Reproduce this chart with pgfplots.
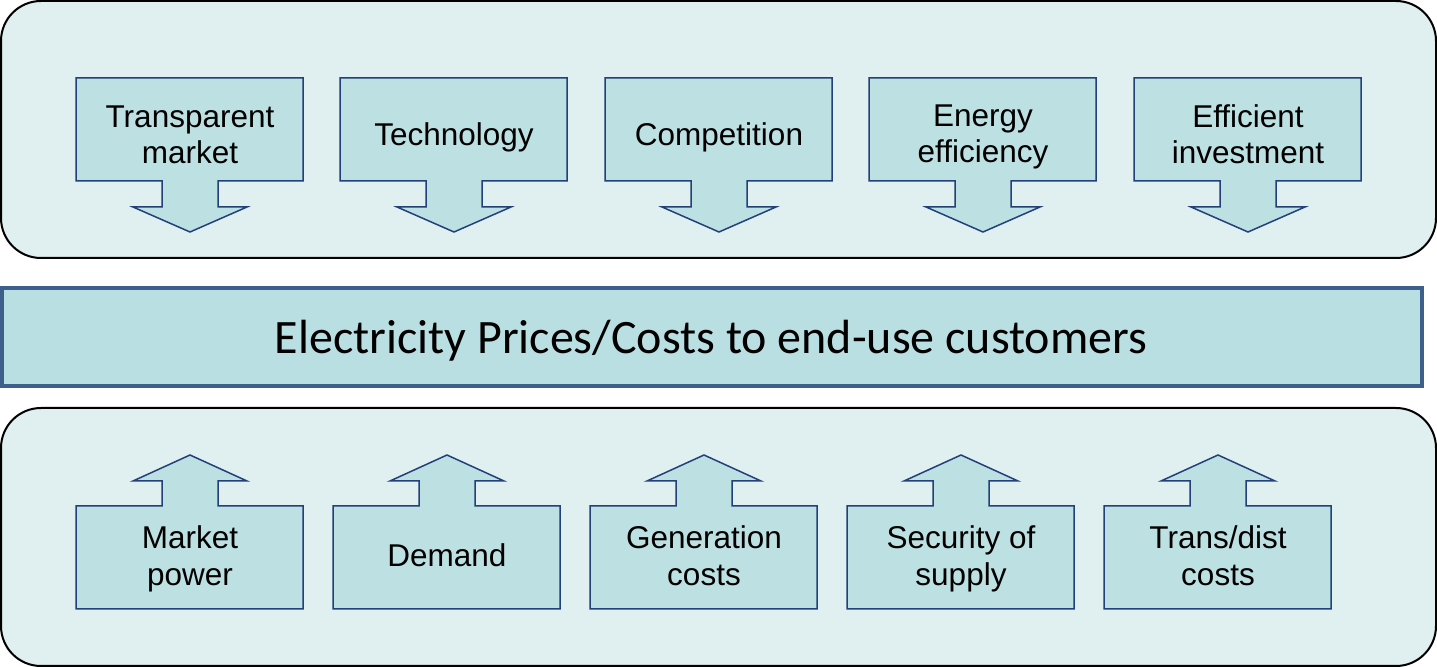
\documentclass[border=0pt]{standalone}
\usepackage{pgfplots}
\pgfplotsset{compat=1.18}
\usepackage{fontspec}
\setmainfont{Liberation Sans}
\newfontfamily\calib{Carlito}
\definecolor{panelfill}{HTML}{E0EFF0}
\definecolor{arrowfill}{HTML}{BDE0E2}
\definecolor{arrowline}{HTML}{23407A}
\definecolor{barline}{HTML}{3E5F8C}
\definecolor{barfill}{HTML}{B9DFE3}
\begin{document}
\begin{tikzpicture}
\begin{axis}[
  width=718.5pt, height=333.5pt, scale only axis,
  xmin=0, xmax=1437, ymin=0, ymax=667, y dir=reverse,
  hide axis, clip=false,
  every axis plot/.append style={mark=none},
]
% panels
\addplot[draw=black, line width=1pt, fill=panelfill, rounded corners=20pt] coordinates {(1,1) (1436,1) (1436,258) (1,258)} --cycle;
\addplot[draw=black, line width=1pt, fill=panelfill, rounded corners=20pt] coordinates {(1,408) (1436,408) (1436,666) (1,666)} --cycle;
% middle bar
\addplot[draw=barline, line width=2pt, fill=barfill] coordinates {(2,288) (1422,288) (1422,386) (2,386)} --cycle;
% down arrows (box left x0: 76, 340, 605, 869, 1134)
\addplot[draw=arrowline, line width=0.75pt, fill=arrowfill] coordinates {(76,78) (303,78) (303,181) (218,181) (218,207) (247,207) (190,232) (133,207) (162,207) (162,181) (76,181)} --cycle;
\addplot[draw=arrowline, line width=0.75pt, fill=arrowfill] coordinates {(340,78) (567,78) (567,181) (482,181) (482,207) (511,207) (454,232) (397,207) (426,207) (426,181) (340,181)} --cycle;
\addplot[draw=arrowline, line width=0.75pt, fill=arrowfill] coordinates {(605,78) (832,78) (832,181) (747,181) (747,207) (776,207) (719,232) (662,207) (691,207) (691,181) (605,181)} --cycle;
\addplot[draw=arrowline, line width=0.75pt, fill=arrowfill] coordinates {(869,78) (1096,78) (1096,181) (1011,181) (1011,207) (1040,207) (983,232) (926,207) (955,207) (955,181) (869,181)} --cycle;
\addplot[draw=arrowline, line width=0.75pt, fill=arrowfill] coordinates {(1134,78) (1361,78) (1361,181) (1276,181) (1276,207) (1305,207) (1248,232) (1191,207) (1220,207) (1220,181) (1134,181)} --cycle;
% up arrows (box left x0: 76, 333, 590, 847, 1104)
\addplot[draw=arrowline, line width=0.75pt, fill=arrowfill] coordinates {(76,609) (303,609) (303,506) (218,506) (218,481) (247,481) (190,455) (133,481) (162,481) (162,506) (76,506)} --cycle;
\addplot[draw=arrowline, line width=0.75pt, fill=arrowfill] coordinates {(333,609) (560,609) (560,506) (475,506) (475,481) (504,481) (447,455) (390,481) (419,481) (419,506) (333,506)} --cycle;
\addplot[draw=arrowline, line width=0.75pt, fill=arrowfill] coordinates {(590,609) (817,609) (817,506) (732,506) (732,481) (761,481) (704,455) (647,481) (676,481) (676,506) (590,506)} --cycle;
\addplot[draw=arrowline, line width=0.75pt, fill=arrowfill] coordinates {(847,609) (1074,609) (1074,506) (989,506) (989,481) (1018,481) (961,455) (904,481) (933,481) (933,506) (847,506)} --cycle;
\addplot[draw=arrowline, line width=0.75pt, fill=arrowfill] coordinates {(1104,609) (1331,609) (1331,506) (1246,506) (1246,481) (1275,481) (1218,455) (1161,481) (1190,481) (1190,506) (1104,506)} --cycle;
% labels (anchored at baselines)
\tikzset{lab/.style={anchor=base, inner sep=0pt, font=\fontsize{15.75}{18.5}\selectfont}}
\node[lab] at (axis cs:190,128) {Transparent};
\node[lab] at (axis cs:190,164) {market};
\node[lab] at (axis cs:454,146) {Technology};
\node[lab] at (axis cs:719,146) {Competition};
\node[lab] at (axis cs:983,127) {Energy};
\node[lab] at (axis cs:983,163) {efficiency};
\node[lab] at (axis cs:1248,128) {Efficient};
\node[lab] at (axis cs:1248,164) {investment};
\node[lab] at (axis cs:190,549) {Market};
\node[lab] at (axis cs:190,586) {power};
\node[lab] at (axis cs:447,567) {Demand};
\node[lab] at (axis cs:704,549) {Generation};
\node[lab] at (axis cs:704,586) {costs};
\node[lab] at (axis cs:961,549) {Security of};
\node[lab] at (axis cs:961,586) {supply};
\node[lab] at (axis cs:1218,549) {Trans/dist};
\node[lab] at (axis cs:1218,586) {costs};
\node[anchor=base, inner sep=0pt, font=\calib\fontsize{24}{28}\selectfont] at (axis cs:711,354) {Electricity Prices/Costs to end-use customers};
\end{axis}
\end{tikzpicture}
\end{document}
